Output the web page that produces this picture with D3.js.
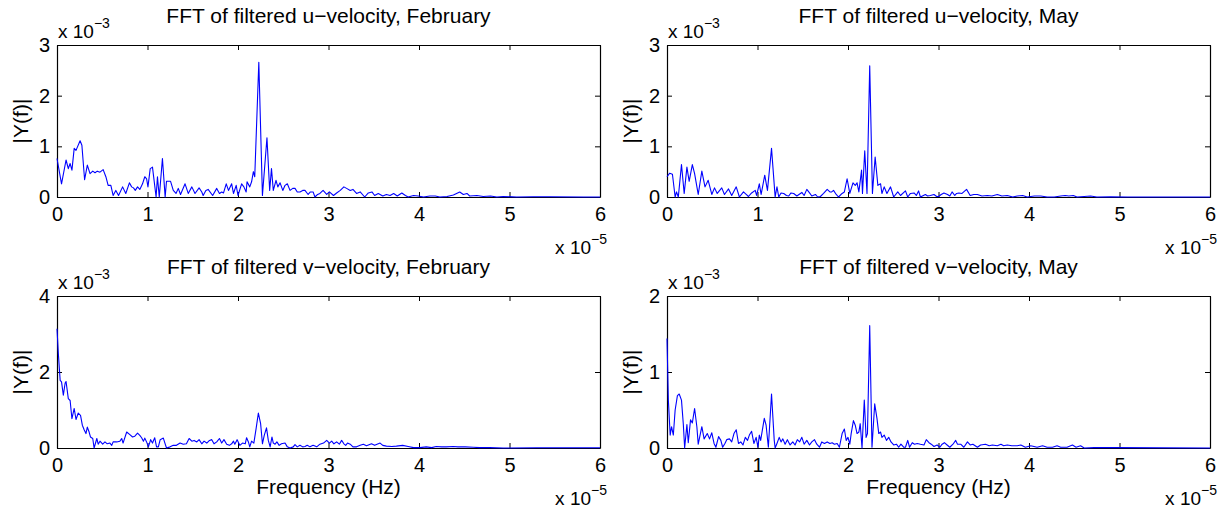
<!DOCTYPE html>
<html>
<head>
<meta charset="utf-8">
<script src="https://cdn.jsdelivr.net/npm/d3@7"></script>
<style>
  body { margin: 0; background: #fff; }
  svg { display: block; font-family: "Liberation Sans", Arial, Helvetica, sans-serif; }
</style>
</head>
<body>
<svg id="chart" width="1227" height="510"></svg>
<script>
// frequency in units of 1e-5 Hz, amplitude |Y(f)| in units of 1e-3
const uFeb = [[0,0.76],[0.05,0.26],[0.10,0.73],[0.125,0.56],[0.145,0.66],[0.165,0.53],[0.19,0.96],[0.21,0.92],[0.255,1.11],[0.275,1.02],
  [0.305,0.34],[0.335,0.63],[0.365,0.46],[0.395,0.51],[0.42,0.48],[0.445,0.51],[0.475,0.49],[0.51,0.54],[0.54,0.40],[0.565,0.23],
  [0.595,0.23],[0.62,0.03],[0.65,0.13],[0.68,0.03],[0.725,0.20],[0.76,0.07],[0.80,0.28],[0.825,0.20],[0.845,0.18],[0.865,0.13],
  [0.89,0.20],[0.915,0.15],[0.945,0.26],[0.97,0.40],[0.99,0.36],[1.005,0.20],[1.03,0.56],[1.055,0.59],[1.095,0.00],[1.11,0.40],
  [1.13,0.00],[1.165,0.76],[1.195,0.00],[1.21,0.31],[1.255,0.31],[1.285,0.13],[1.315,0.07],[1.34,0.17],[1.365,0.05],[1.415,0.26],
  [1.45,0.07],[1.49,0.20],[1.525,0.07],[1.57,0.18],[1.60,0.10],[1.615,0.03],[1.645,0.13],[1.67,0.15],[1.72,0.03],[1.765,0.17],
  [1.795,0.07],[1.82,0.10],[1.84,0.08],[1.87,0.26],[1.895,0.13],[1.93,0.26],[1.95,0.07],[1.98,0.23],[2.00,0.03],[2.04,0.26],
  [2.065,0.20],[2.09,0.10],[2.10,0.30],[2.13,0.20],[2.15,0.30],[2.17,0.50],[2.185,0.40],[2.23,2.66],[2.27,0.03],[2.32,1.17],
  [2.35,0.13],[2.37,0.56],[2.39,0.13],[2.42,0.33],[2.44,0.20],[2.465,0.28],[2.495,0.13],[2.52,0.23],[2.545,0.26],[2.575,0.13],
  [2.605,0.17],[2.63,0.17],[2.655,0.10],[2.685,0.10],[2.715,0.13],[2.74,0.13],[2.775,0.05],[2.80,0.10],[2.83,0.10],[2.85,0.00],
  [2.88,0.05],[2.905,0.07],[2.94,0.13],[2.98,0.05],[3.01,0.10],[3.055,0.03],[3.09,0.08],[3.13,0.13],[3.17,0.20],[3.20,0.17],
  [3.24,0.13],[3.27,0.15],[3.31,0.07],[3.35,0.10],[3.40,0.00],[3.44,0.08],[3.48,0.10],[3.51,0.03],[3.55,0.07],[3.60,0.02],
  [3.64,0.05],[3.68,0.03],[3.72,0.07],[3.76,0.02],[3.81,0.08],[3.85,0.03],[3.88,0.00],[3.94,0.03],[3.99,0.02],[4.05,0.00],
  [4.12,0.02],[4.18,0.02],[4.23,0.00],[4.31,0.01],[4.38,0.04],[4.45,0.10],[4.49,0.05],[4.53,0.07],[4.56,0.02],[4.64,0.03],
  [4.71,0.01],[4.79,0.02],[4.86,0.00],[4.93,0.01],[5.08,0.00],[5.26,0.005],[5.45,0.005],[5.82,0.00],[6.0,0.00]];

const uMay = [[0,0.40],[0.03,0.47],[0.06,0.45],[0.09,0.00],[0.105,0.10],[0.125,0.00],[0.16,0.64],[0.19,0.07],[0.22,0.59],[0.245,0.31],
  [0.28,0.64],[0.305,0.46],[0.345,0.05],[0.385,0.51],[0.42,0.20],[0.455,0.33],[0.495,0.05],[0.525,0.18],[0.555,0.07],[0.605,0.18],
  [0.635,0.05],[0.68,0.16],[0.715,0.03],[0.765,0.20],[0.80,0.00],[0.845,0.10],[0.875,0.05],[0.90,0.01],[0.935,0.08],[0.975,0.13],
  [0.99,0.03],[1.02,0.26],[1.04,0.05],[1.08,0.43],[1.11,0.13],[1.155,0.96],[1.195,0.00],[1.215,0.20],[1.235,0.00],[1.26,0.08],
  [1.29,0.07],[1.32,0.03],[1.345,0.02],[1.37,0.08],[1.40,0.07],[1.435,0.02],[1.49,0.09],[1.515,0.03],[1.545,0.15],[1.575,0.08],
  [1.60,0.02],[1.64,0.05],[1.665,0.00],[1.695,0.01],[1.73,0.07],[1.77,0.15],[1.80,0.10],[1.82,0.10],[1.84,0.13],[1.87,0.05],
  [1.895,0.00],[1.935,0.07],[1.96,0.10],[1.99,0.36],[2.02,0.07],[2.055,0.28],[2.08,0.23],[2.10,0.28],[2.12,0.10],[2.15,0.53],
  [2.16,0.07],[2.185,0.91],[2.21,0.07],[2.24,2.59],[2.27,0.07],[2.30,0.79],[2.33,0.23],[2.36,0.26],[2.375,0.07],[2.40,0.20],
  [2.43,0.07],[2.47,0.20],[2.505,0.00],[2.55,0.10],[2.58,0.03],[2.635,0.12],[2.66,0.00],[2.69,0.07],[2.73,0.08],[2.755,0.03],
  [2.78,0.12],[2.80,0.00],[2.855,0.05],[2.88,0.02],[2.91,0.03],[2.95,0.05],[2.98,0.01],[3.00,0.01],[3.03,0.05],[3.06,0.08],
  [3.10,0.05],[3.125,0.02],[3.15,0.10],[3.18,0.03],[3.20,0.07],[3.225,0.08],[3.26,0.07],[3.31,0.15],[3.35,0.03],[3.39,0.05],
  [3.43,0.05],[3.48,0.02],[3.54,0.03],[3.59,0.02],[3.65,0.05],[3.70,0.02],[3.76,0.03],[3.82,0.00],[3.87,0.02],[3.93,0.03],
  [3.98,0.00],[4.06,0.02],[4.13,0.02],[4.20,0.00],[4.28,0.00],[4.35,0.02],[4.40,0.03],[4.44,0.02],[4.49,0.03],[4.53,0.00],
  [4.61,0.01],[4.68,0.02],[4.75,0.00],[4.90,0.005],[5.09,0.00],[6.0,0.00]];

const vFeb = [[0,3.14],[0.015,2.48],[0.035,1.78],[0.05,1.74],[0.07,1.39],[0.09,1.71],[0.10,1.75],[0.125,1.30],[0.145,1.25],[0.165,0.77],
  [0.19,1.04],[0.21,0.75],[0.235,0.92],[0.26,0.86],[0.28,0.60],[0.30,0.48],[0.32,0.38],[0.335,0.55],[0.355,0.42],[0.37,0.29],
  [0.395,0.25],[0.41,0.00],[0.44,0.25],[0.455,0.10],[0.475,0.18],[0.505,0.10],[0.53,0.16],[0.555,0.11],[0.585,0.13],[0.605,0.07],
  [0.62,0.16],[0.66,0.16],[0.695,0.18],[0.715,0.25],[0.73,0.13],[0.77,0.42],[0.805,0.35],[0.835,0.29],[0.86,0.31],[0.89,0.39],
  [0.915,0.33],[0.935,0.27],[0.955,0.18],[0.97,0.26],[0.99,0.16],[1.01,0.03],[1.035,0.22],[1.055,0.13],[1.08,0.27],[1.10,0.03],
  [1.12,0.03],[1.14,0.22],[1.175,0.26],[1.195,0.11],[1.21,0.00],[1.25,0.03],[1.285,0.07],[1.32,0.07],[1.36,0.13],[1.395,0.10],
  [1.43,0.11],[1.46,0.25],[1.49,0.18],[1.515,0.20],[1.545,0.16],[1.57,0.22],[1.60,0.11],[1.625,0.18],[1.655,0.13],[1.685,0.20],
  [1.71,0.22],[1.735,0.11],[1.765,0.16],[1.795,0.25],[1.82,0.13],[1.845,0.22],[1.875,0.10],[1.905,0.07],[1.93,0.11],[1.95,0.18],
  [1.965,0.10],[1.99,0.22],[2.02,0.07],[2.05,0.13],[2.08,0.11],[2.095,0.27],[2.115,0.16],[2.13,0.03],[2.15,0.18],[2.175,0.13],
  [2.20,0.51],[2.225,0.92],[2.25,0.64],[2.27,0.11],[2.29,0.33],[2.315,0.53],[2.335,0.20],[2.355,0.03],[2.375,0.29],[2.39,0.13],
  [2.41,0.10],[2.43,0.16],[2.455,0.07],[2.48,0.11],[2.52,0.13],[2.545,0.03],[2.575,0.00],[2.61,0.03],[2.63,0.09],[2.655,0.03],
  [2.685,0.07],[2.715,0.03],[2.74,0.04],[2.765,0.07],[2.795,0.03],[2.83,0.07],[2.87,0.03],[2.905,0.10],[2.945,0.13],[2.98,0.20],
  [3.01,0.13],[3.035,0.18],[3.06,0.11],[3.09,0.16],[3.12,0.10],[3.145,0.20],[3.17,0.11],[3.19,0.07],[3.21,0.13],[3.24,0.10],
  [3.27,0.03],[3.31,0.03],[3.35,0.07],[3.385,0.10],[3.42,0.06],[3.475,0.11],[3.51,0.07],[3.57,0.13],[3.60,0.07],[3.64,0.05],
  [3.70,0.04],[3.75,0.05],[3.82,0.07],[3.88,0.04],[3.94,0.01],[4.01,0.01],[4.08,0.03],[4.14,0.01],[4.19,0.04],[4.25,0.03],
  [4.30,0.03],[4.38,0.04],[4.43,0.03],[4.51,0.03],[4.60,0.02],[4.67,0.01],[4.78,0.01],[4.93,0.00],[5.30,0.005],[6.0,0.005]];

const vMay = [[0,1.44],[0.015,0.63],[0.035,0.17],[0.05,0.28],[0.07,0.17],[0.09,0.50],[0.115,0.69],[0.135,0.71],[0.16,0.63],[0.18,0.32],
  [0.195,0.00],[0.22,0.31],[0.235,0.07],[0.26,0.37],[0.28,0.33],[0.305,0.52],[0.33,0.28],[0.345,0.05],[0.385,0.28],[0.41,0.12],
  [0.445,0.19],[0.47,0.12],[0.495,0.20],[0.52,0.06],[0.54,0.01],[0.57,0.15],[0.595,0.10],[0.615,0.01],[0.64,0.06],[0.66,0.11],
  [0.69,0.12],[0.715,0.08],[0.74,0.19],[0.765,0.24],[0.79,0.06],[0.815,0.08],[0.84,0.04],[0.865,0.14],[0.89,0.10],[0.91,0.17],
  [0.935,0.22],[0.96,0.06],[0.985,0.14],[1.005,0.01],[1.02,0.17],[1.035,0.10],[1.075,0.39],[1.095,0.30],[1.12,0.01],[1.155,0.71],
  [1.185,0.10],[1.195,0.00],[1.215,0.06],[1.24,0.14],[1.26,0.08],[1.28,0.12],[1.305,0.05],[1.33,0.11],[1.36,0.04],[1.39,0.08],
  [1.415,0.04],[1.44,0.11],[1.465,0.08],[1.49,0.14],[1.515,0.05],[1.545,0.10],[1.575,0.04],[1.60,0.08],[1.63,0.11],[1.655,0.05],
  [1.685,0.01],[1.71,0.08],[1.74,0.06],[1.77,0.08],[1.80,0.06],[1.825,0.07],[1.85,0.05],[1.88,0.06],[1.905,0.01],[1.935,0.19],
  [1.96,0.25],[1.98,0.10],[2.00,0.14],[2.02,0.05],[2.035,0.19],[2.06,0.36],[2.08,0.30],[2.10,0.19],[2.12,0.21],[2.135,0.32],
  [2.155,0.00],[2.18,0.63],[2.20,0.14],[2.215,0.19],[2.24,1.61],[2.265,0.01],[2.295,0.58],[2.32,0.39],[2.34,0.19],[2.36,0.21],
  [2.375,0.14],[2.40,0.17],[2.425,0.10],[2.45,0.14],[2.475,0.08],[2.505,0.04],[2.535,0.05],[2.56,0.01],[2.585,0.05],[2.615,0.01],
  [2.635,0.01],[2.66,0.10],[2.68,0.01],[2.71,0.07],[2.735,0.05],[2.765,0.06],[2.80,0.05],[2.84,0.04],[2.865,0.11],[2.895,0.07],
  [2.92,0.05],[2.95,0.02],[2.985,0.04],[3.015,0.01],[3.04,0.05],[3.065,0.07],[3.095,0.04],[3.125,0.01],[3.16,0.05],[3.19,0.10],
  [3.21,0.05],[3.245,0.05],[3.28,0.01],[3.32,0.08],[3.35,0.04],[3.38,0.05],[3.43,0.01],[3.465,0.04],[3.52,0.05],[3.56,0.03],
  [3.595,0.04],[3.65,0.03],[3.69,0.05],[3.72,0.03],[3.76,0.04],[3.81,0.03],[3.87,0.03],[3.91,0.04],[3.96,0.01],[4.02,0.03],
  [4.09,0.01],[4.15,0.03],[4.20,0.01],[4.26,0.01],[4.31,0.03],[4.35,0.01],[4.42,0.01],[4.48,0.04],[4.52,0.01],[4.57,0.03],
  [4.61,0.00],[4.72,0.005],[4.94,0.005],[6.0,0.00]];

const freqTicks = [0, 1, 2, 3, 4, 5, 6];
const titles = [
  'FFT of filtered u\u2212velocity, February',
  'FFT of filtered u\u2212velocity, May',
  'FFT of filtered v\u2212velocity, February',
  'FFT of filtered v\u2212velocity, May'
];

const W = 543, H = 152;
const panels = [
  { data: uFeb, title: titles[0], yMax: 3, yTicks: [0, 1, 2, 3], left: 57, top: 45, xlabel: false },
  { data: uMay, title: titles[1], yMax: 3, yTicks: [0, 1, 2, 3], left: 667, top: 45, xlabel: false },
  { data: vFeb, title: titles[2], yMax: 4, yTicks: [0, 2, 4], left: 57, top: 296, xlabel: true },
  { data: vMay, title: titles[3], yMax: 2, yTicks: [0, 1, 2], left: 667, top: 296, xlabel: true }
];

const svg = d3.select('#chart');
const FONT = '"Liberation Sans", Arial, Helvetica, sans-serif';

// "x 10^n" multiplier label
function sciLabel(parent, x, y, exp, anchor) {
  const t = parent.append('text')
    .attr('x', x).attr('y', y)
    .attr('text-anchor', anchor)
    .attr('font-size', 19)
    .attr('fill', '#000');
  t.append('tspan').text('x 10');
  t.append('tspan').attr('dy', -10).attr('font-size', 14).text('\u2212' + exp);
}

panels.forEach(p => {
  const g = svg.append('g').attr('transform', `translate(${p.left},${p.top})`);
  const x = d3.scaleLinear().domain([0, 6]).range([0, W]);
  const y = d3.scaleLinear().domain([0, p.yMax]).range([H, 0]);
  const fmt = d3.format('d');

  const axes = [
    g.append('g').attr('transform', `translate(0,${H})`)
      .call(d3.axisBottom(x).tickValues(freqTicks).tickFormat(fmt).tickSize(-5).tickSizeOuter(0).tickPadding(10)),
    g.append('g')
      .call(d3.axisTop(x).tickValues(freqTicks).tickSize(-5).tickSizeOuter(0).tickFormat('')),
    g.append('g')
      .call(d3.axisLeft(y).tickValues(p.yTicks).tickFormat(fmt).tickSize(-5).tickSizeOuter(0).tickPadding(7)),
    g.append('g').attr('transform', `translate(${W},0)`)
      .call(d3.axisRight(y).tickValues(p.yTicks).tickSize(-5).tickSizeOuter(0).tickFormat(''))
  ];
  axes.forEach(a => {
    a.attr('font-family', FONT).attr('font-size', 20);
    a.select('.domain').attr('stroke', '#000').attr('stroke-width', 1.2);
    a.selectAll('.tick line').attr('stroke', '#000').attr('stroke-width', 1);
    a.selectAll('.tick text').attr('fill', '#000');
  });

  // spectrum
  g.append('path')
    .datum(p.data)
    .attr('d', d3.line().x(d => x(d[0])).y(d => y(d[1])))
    .attr('fill', 'none')
    .attr('stroke', '#0000ff')
    .attr('stroke-width', 1.1)
    .attr('stroke-linejoin', 'round');

  // title
  g.append('text')
    .attr('x', W / 2).attr('y', -22)
    .attr('text-anchor', 'middle')
    .attr('font-size', 21)
    .text(p.title);

  // y label
  g.append('text')
    .attr('transform', `translate(-29,${H / 2}) rotate(-90)`)
    .attr('text-anchor', 'middle')
    .attr('font-size', 21)
    .text('|Y(f)|');

  sciLabel(g, 1, -7, 3, 'start');
  sciLabel(g, W + 7, H + 57, 5, 'end');

  if (p.xlabel) {
    g.append('text')
      .attr('x', W / 2).attr('y', H + 46)
      .attr('text-anchor', 'middle')
      .attr('font-size', 21)
      .text('Frequency (Hz)');
  }
});
</script>
</body>
</html>
